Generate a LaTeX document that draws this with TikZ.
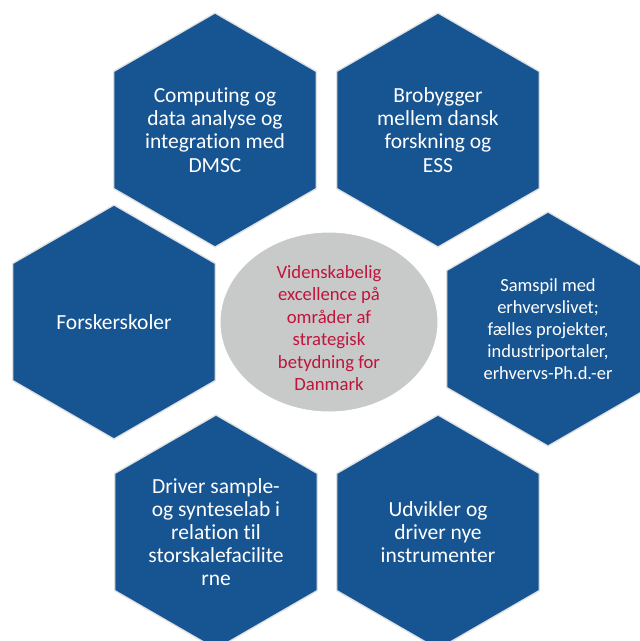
\documentclass[tikz,border=0pt]{standalone}
\usepackage{fontspec}
\setmainfont{Carlito}[Ligatures={NoCommon}]
\usetikzlibrary{shapes.geometric}
\definecolor{hexblue}{RGB}{23,84,146}
\definecolor{hexrim}{RGB}{222,224,226}
\definecolor{coregray}{RGB}{200,201,201}
\definecolor{corered}{RGB}{192,20,60}
\tikzset{
  hexa/.style={regular polygon, regular polygon sides=6, shape border rotate=30,
    minimum size=234pt, inner sep=0pt, fill=hexblue, draw=hexrim, line width=1.3pt,
    text=white, align=center, font=\fontsize{21.5}{23.2}\selectfont},
  smalltext/.style={font=\fontsize{18.5}{22}\selectfont},
  core/.style={ellipse, minimum width=218pt, minimum height=180pt, inner sep=0pt,
    fill=coregray, draw=white, line width=1pt},
  coretext/.style={text=corered, align=center, font=\fontsize{18.7}{22.4}\selectfont}
}
\begin{document}
\begin{tikzpicture}[x=1pt,y=-1pt]
  \useasboundingbox (0,0) rectangle (640,641);
  % six hexagonal fields around the core
  \node[hexa] (compute) at (215,130) {Computing og\\data analyse og\\integration med\\DMSC};
  \node[hexa] (bridge) at (438,130) {Brobygger\\mellem dansk\\forskning og\\ESS};
  \node[hexa] (school) at (114,322) {Forskerskoler};
  \node[hexa, smalltext] (industry) at (548,329) {Samspil med\\erhvervslivet;\\fælles projekter,\\industriportaler,\\erhvervs-Ph.d.-er};
  \node[hexa] (samplelab) at (216,532) {Driver sample-\\og synteselab i\\relation til\\storskalefacilite\\rne};
  \node[hexa] (instr) at (438,532) {Udvikler og\\driver nye\\instrumenter};
  % central goal
  \node[core] (goal) at (329,322) {};
  \node[coretext] (goaltext) at (329,328) {Videnskabelig\\excellence på\\områder af\\strategisk\\betydning for\\Danmark};
\end{tikzpicture}
\end{document}
